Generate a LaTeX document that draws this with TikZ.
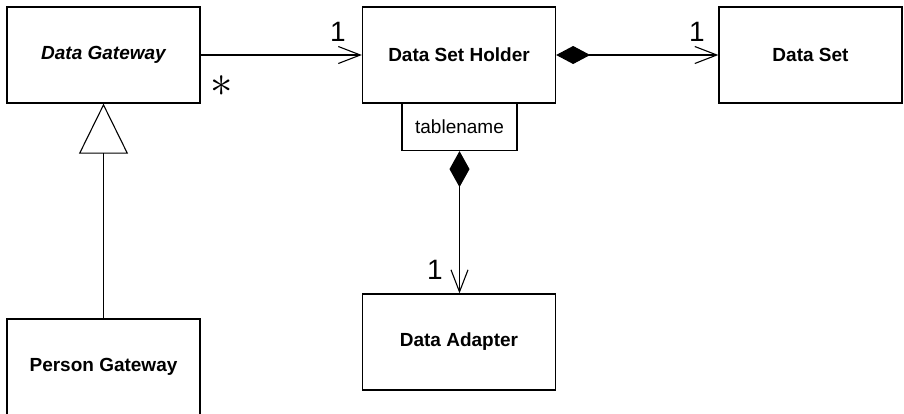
\documentclass[tikz,border=0pt]{standalone}
\usepackage{fontspec}
\setmainfont{Liberation Sans}
\usetikzlibrary{arrows.meta}
\begin{document}
\begin{tikzpicture}[x=1pt,y=-1pt,
  cls/.style={draw, line width=1.3pt, inner sep=0pt, minimum width=193pt, minimum height=96pt,
    font=\fontsize{19}{22}\selectfont\bfseries},
  attr/.style={draw, line width=1.1pt, inner sep=0pt, minimum width=115pt, minimum height=47pt,
    font=\fontsize{19}{22}\selectfont},
  conn/.style={line width=1.1pt},
  nav/.style={-{Straight Barb[length=22pt,width=17pt,line width=1.1pt]}},
  mult/.style={inner sep=0pt, font=\fontsize{28}{30}\selectfont}
]
\useasboundingbox (0,0) rectangle (904,413);
\clip (0,0) rectangle (904,413);
\node[cls, font=\fontsize{19}{22}\selectfont\bfseries\itshape] (dg) at (103.5,55) {Data Gateway};
\node[cls] (dsh) at (459,55) {Data Set Holder};
\node[cls, minimum width=183pt] (ds) at (810.5,55) {Data Set};
\node[attr, anchor=north] (tn) at (459.5,103) {tablename};
\node[cls] (da) at (459,342) {Data Adapter};
\node[cls] (pg) at (103.5,367) {Person Gateway};

\draw[conn, nav] (dg.east) -- (dsh.west);
\draw[conn, {Diamond[length=34pt,width=18pt]}-{Straight Barb[length=22pt,width=17pt,line width=1.1pt]}] (dsh.east) -- (ds.west);
\draw[conn, {Diamond[length=36pt,width=20pt]}-{Straight Barb[length=22pt,width=17pt,line width=1.1pt]}] (tn.south) -- (tn.south |- da.north);
\draw[conn, -{Triangle[open,length=50pt,width=49pt,line width=1.1pt]}] (pg.north) -- (dg.south);

\node[mult] (m1) at (338,32) {1};
\node[inner sep=0pt] (m2) at (222,86) {\scalebox{1.8}{\fontsize{24}{24}\selectfont$\ast$}};
\node[mult] (m3) at (697,32) {1};
\node[mult] (m4) at (435,270) {1};
\end{tikzpicture}
\end{document}
